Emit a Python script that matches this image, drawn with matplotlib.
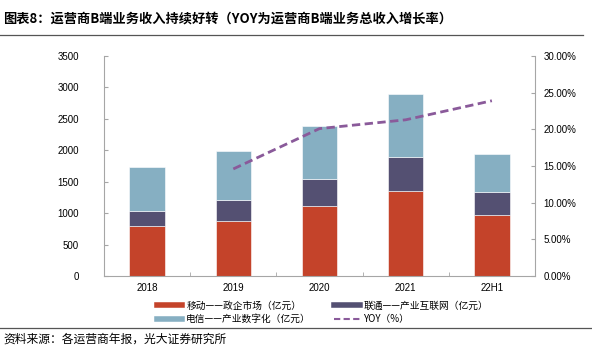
import matplotlib.pyplot as plt
from matplotlib.lines import Line2D
from matplotlib.ticker import FuncFormatter, MultipleLocator

plt.rcParams['font.family'] = ['Noto Sans CJK SC', 'DejaVu Sans']

# 数据
years = ['2018', '2019', '2020', '2021', '22H1']
mobile = [800, 880, 1115, 1357, 975]      # 移动——政企市场（亿元）
unicom = [230, 330, 430, 540, 360]        # 联通——产业互联网（亿元）
telecom = [700, 775, 845, 1000, 605]      # 电信——产业数字化（亿元）
yoy_years = ['2019', '2020', '2021', '22H1']
yoy = [14.6, 20.1, 21.3, 23.9]            # YOY（%）

c_red = '#C4432A'
c_purple = '#545072'
c_blue = '#86AFC2'
c_line = '#8A5A9A'
c_spine = '#A6A6A6'

fig = plt.figure(figsize=(5.92, 3.54), dpi=100)
ax = fig.add_axes([0.1757, 0.2203, 0.728, 0.6215])

x = list(range(len(years)))
w = 0.41
b2 = [m + u for m, u in zip(mobile, unicom)]
ax.bar(x, mobile, w, color=c_red, edgecolor='white', linewidth=0.4)
ax.bar(x, unicom, w, bottom=mobile, color=c_purple, edgecolor='white', linewidth=0.4)
ax.bar(x, telecom, w, bottom=b2, color=c_blue, edgecolor='white', linewidth=0.4)

ax.set_xlim(-0.5, len(years) - 0.5)
ax.set_ylim(0, 3500)
ax.yaxis.set_major_locator(MultipleLocator(500))
ax.set_xticks(x)
ax.set_xticklabels(years)
ax.set_xticks([i + 0.5 for i in x[:-1]], minor=True)
ax.tick_params(axis='x', which='major', length=0, labelsize=7, pad=5)
ax.tick_params(axis='x', which='minor', direction='in', length=3, color=c_spine)
ax.tick_params(axis='y', direction='in', length=3, color=c_spine, labelsize=7, pad=18)

ax2 = ax.twinx()
ax2.plot([years.index(y) for y in yoy_years], yoy, color=c_line, lw=2, ls=(0, (3, 1.6)))
ax2.set_ylim(0, 30)
ax2.yaxis.set_major_locator(MultipleLocator(5))
ax2.yaxis.set_major_formatter(FuncFormatter(lambda v, p: f'{v:.2f}%'))
ax2.tick_params(axis='y', direction='in', length=3, color=c_spine, labelsize=7, pad=6)

for lab in ax.get_xticklabels() + ax.get_yticklabels() + ax2.get_yticklabels():
    lab.set_family(['Liberation Sans', 'DejaVu Sans'])

for a in (ax, ax2):
    a.spines['top'].set_visible(False)
    for s in ('left', 'right', 'bottom'):
        a.spines[s].set_color(c_spine)
        a.spines[s].set_linewidth(0.8)
ax.spines['right'].set_visible(False)
ax2.spines['left'].set_visible(False)
ax2.spines['bottom'].set_visible(False)

handles = [
    Line2D([], [], color=c_red, lw=4),
    Line2D([], [], color=c_blue, lw=4),
    Line2D([], [], color=c_purple, lw=4),
    Line2D([], [], color=c_line, lw=1.5, ls=(0, (3, 1.6))),
]
labels = ['移动——政企市场（亿元）', '电信——产业数字化（亿元）',
          '联通——产业互联网（亿元）', 'YOY（%）']
fig.legend(handles, labels, ncol=2, loc='center', bbox_to_anchor=(0.545, 0.117),
           frameon=False, fontsize=7, handlelength=2.6, handletextpad=0.4,
           columnspacing=2.4, labelspacing=0.35)

fig.text(0.005, 0.948, '图表8：运营商B端业务收入持续好转（YOY为运营商B端业务总收入增长率）',
         fontsize=9.5, fontweight='bold', va='center', ha='left')
fig.add_artist(Line2D([0.0, 0.985], [0.902, 0.902], color='#555555', lw=0.9))
fig.add_artist(Line2D([0.0, 1.0], [0.073, 0.073], color='#555555', lw=0.9))
fig.text(0.005, 0.042, '资料来源：各运营商年报，光大证券研究所', fontsize=8.5, va='center', ha='left')

fig.savefig('out.png', dpi=100)
